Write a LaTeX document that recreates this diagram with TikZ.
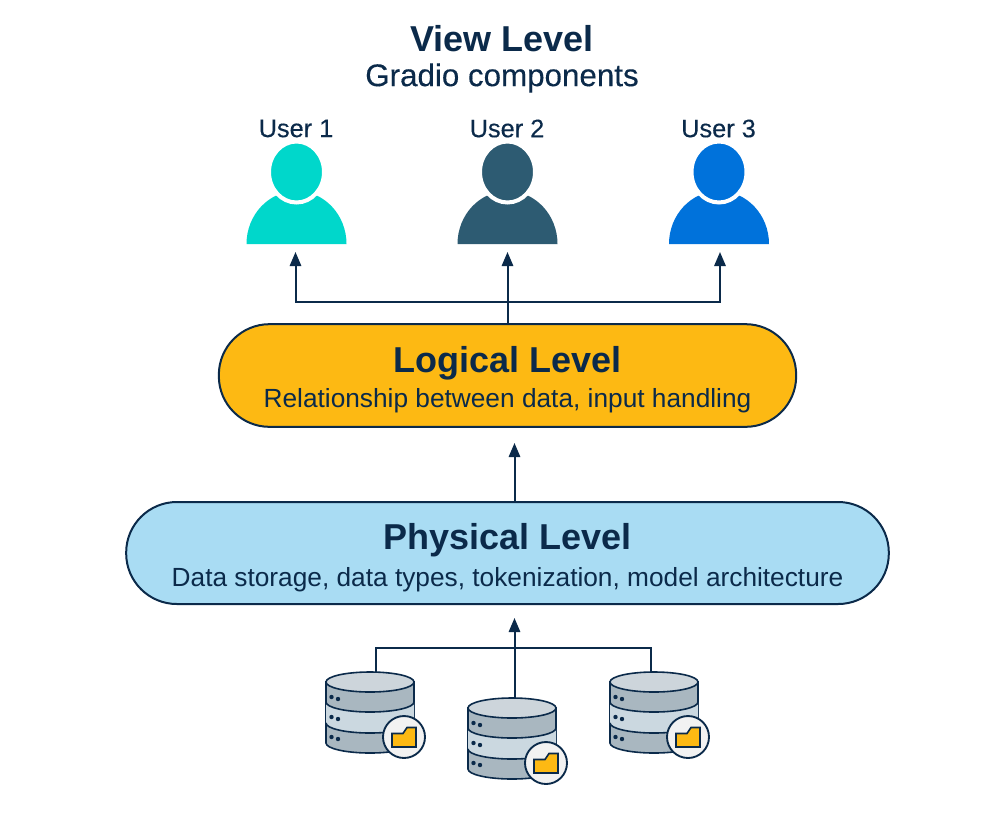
\documentclass[tikz,border=0pt]{standalone}
\usepackage{fontspec}
\setmainfont{Liberation Sans}
\newfontfamily\medfont[FakeBold=0.25]{Liberation Sans}
\usetikzlibrary{arrows.meta}
\definecolor{navy}{HTML}{0B2A4A}
\definecolor{gold}{HTML}{FDB913}
\definecolor{skyb}{HTML}{A9DCF3}
\definecolor{teal1}{HTML}{00D7CB}
\definecolor{slate1}{HTML}{2D5B72}
\definecolor{blue1}{HTML}{0072DB}
\definecolor{banddark}{HTML}{A9B7C0}
\definecolor{bandlight}{HTML}{CBD8E0}
\definecolor{dbtop}{HTML}{CDD5DB}
\definecolor{badge}{HTML}{F2F2F2}
\tikzset{
 txt/.style={text=navy,inner sep=0pt,anchor=center},
 title/.style={txt,font=\fontsize{27}{30}\selectfont\bfseries},
 sub/.style={txt,font=\fontsize{19.7}{22}\selectfont},
 medsub/.style={txt,font=\fontsize{19}{22}\selectfont\medfont},
 pill/.style={draw=navy,line width=1.5pt,rounded corners=38pt,inner sep=0pt},
 conn/.style={draw=navy,line width=1.5pt},
 arr/.style={conn,-{Triangle[length=10.5pt,width=8.5pt]}},
 dbline/.style={draw=navy,line width=1.2pt},
}
\newcommand{\usericon}[5]{% name, x, colour, label, arrow x
 \begin{scope}[shift={(#2,0)}]
  \fill[#3] (-50,244) arc[start angle=180,end angle=360,x radius=50,y radius=53] -- cycle;
  \draw[white,line width=3pt,fill=#3] (0,172) ellipse[x radius=27.5,y radius=30.5];
 \end{scope}
 \coordinate (#1) at (#5,252);
 \node[medsub] (#1label) at (#2-0.5,128.5) {#4};
}
\newcommand{\dbicon}[4]{% name, x, y(center of top ellipse), stub x
 \begin{scope}[shift={(#2,#3)}]
  \path[dbline,fill=banddark,draw] (-44,0) -- (-44,61) arc[start angle=180,end angle=0,x radius=44,y radius=10] -- (44,0) -- cycle;
  \path[fill=bandlight] (-44,20) arc[start angle=180,end angle=0,x radius=44,y radius=10] -- (44,41) arc[start angle=0,end angle=180,x radius=44,y radius=10] -- cycle;
  \draw[dbline] (-44,20) arc[start angle=180,end angle=0,x radius=44,y radius=10];
  \draw[dbline] (-44,41) arc[start angle=180,end angle=0,x radius=44,y radius=10];
  \draw[dbline,fill=dbtop] (0,0) ellipse[x radius=44,y radius=10];
  \foreach \yy in {0,20,40}{
   \fill[navy] (-38.5,15+\yy) circle[radius=2.2];
   \fill[navy] (-32,17+\yy) circle[radius=2.2];
  }
  \draw[navy,line width=1.4pt,fill=badge] (34,55) circle[radius=21];
  \draw[navy,line width=1.2pt,fill=gold,line join=miter] (22,51.5) -- (33,51.5) -- (37,45.5) -- (46,45.5) -- (46,65) -- (22,65) -- cycle;
  \coordinate (#1) at (#4,-10);
 \end{scope}
}
\begin{document}
\begin{tikzpicture}[x=0.75pt,y=-0.75pt]
\useasboundingbox (0,0) rectangle (1000,815);
\node[title] (viewtitle) at (502,38.5) {View Level};
\node[txt,font=\fontsize{23.5}{26}\selectfont\medfont] (viewsub) at (502,78) {Gradio components};
\usericon{user1}{296.5}{teal1}{User 1}{295.5}
\usericon{user2}{507.5}{slate1}{User 2}{507.5}
\usericon{user3}{719}{blue1}{User 3}{720}
\node[pill,fill=gold,minimum width=433pt,minimum height=77pt] (logical) at (507.5,375.5) {};
\node[title] (logicaltitle) at (507.5,363) {Logical Level};
\node[sub] (logicalsub) at (507.5,401) {Relationship between data, input handling};
\node[pill,fill=skyb,minimum width=572pt,minimum height=76.5pt] (physical) at (507.5,553) {};
\node[title] (physicaltitle) at (507.5,540) {Physical Level};
\node[sub] (physicalsub) at (507.5,580) {Data storage, data types, tokenization, model architecture};
\dbicon{db1}{370}{682}{6}
\dbicon{db2}{512}{708}{2.5}
\dbicon{db3}{654}{682}{-3}
\coordinate (jtop) at (507.5,302);
\coordinate (login) at (514.5,443);
\coordinate (physin) at (514.5,618);
\coordinate (jbot1) at (376,648);
\coordinate (jbot3) at (651,648);
\coordinate (physout) at (514.5,502);
\draw[arr] (logical.north) -- (user2);
\draw[arr] (jtop) -| (user1);
\draw[arr] (jtop) -| (user3);
\draw[arr] (physout) -- (login);
\draw[arr] (db2) -- (physin);
\draw[conn] (db1) -- (jbot1) -- (jbot3) -- (db3);
\end{tikzpicture}
\end{document}
